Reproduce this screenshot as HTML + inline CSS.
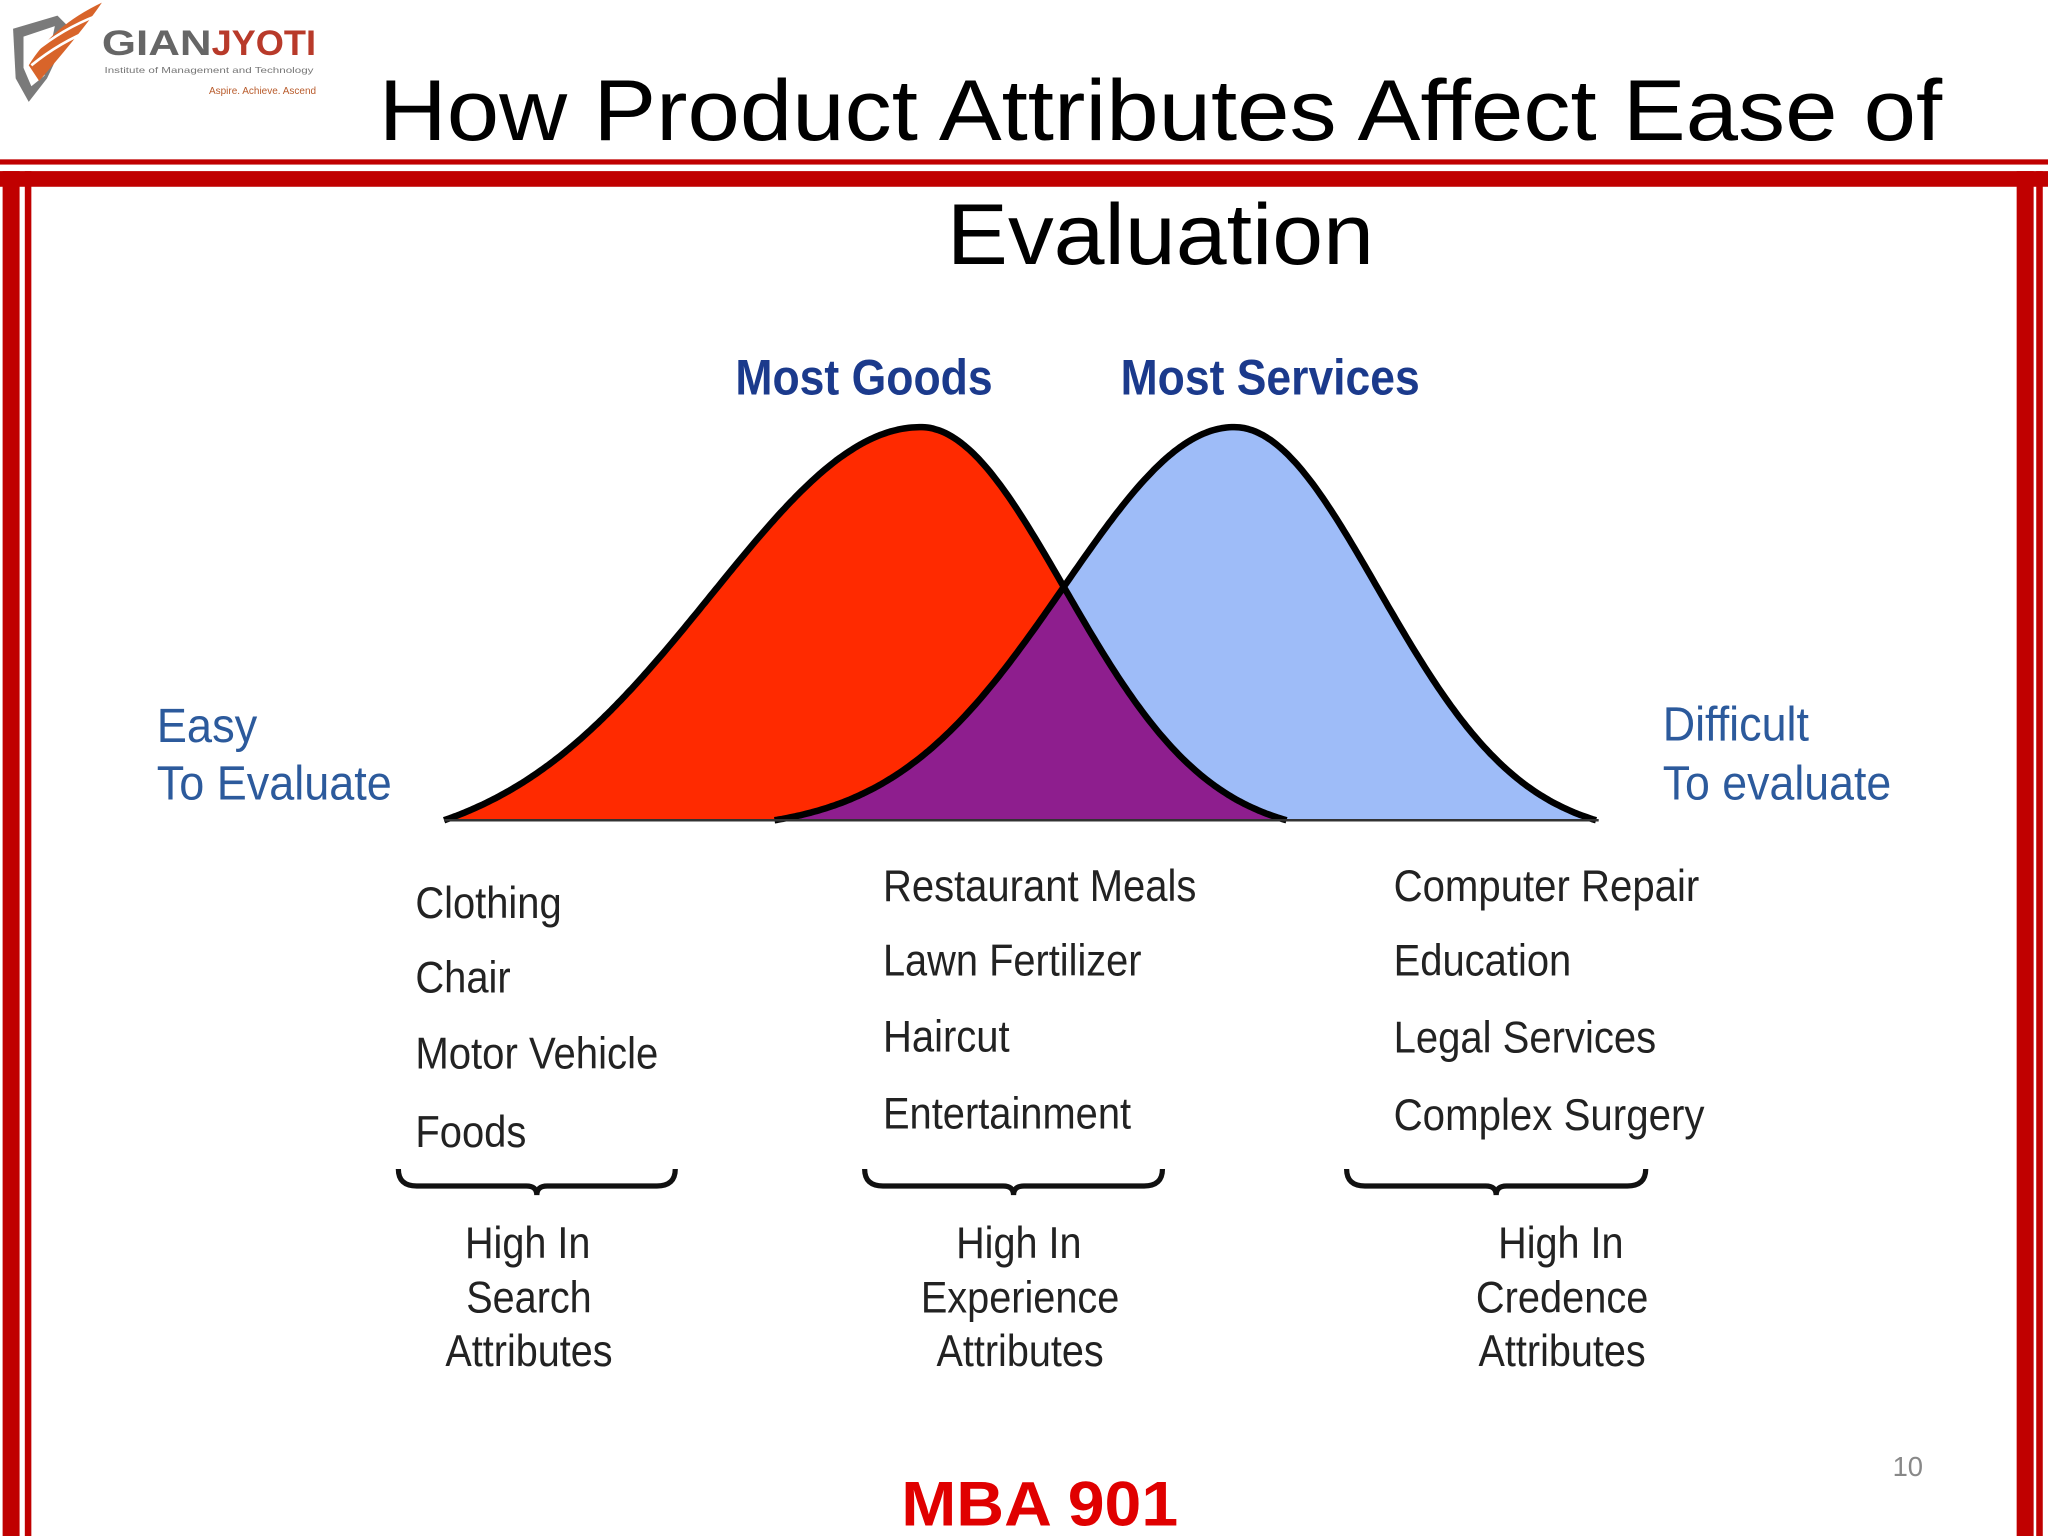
<!DOCTYPE html>
<html><head><meta charset="utf-8"><style>
html,body{margin:0;padding:0;background:#fff;}
svg{display:block;}
text{font-family:"Liberation Sans",sans-serif;}
</style></head><body>
<svg id="chart" width="2048" height="1536" viewBox="0 0 1568 1176" xmlns="http://www.w3.org/2000/svg">
  <rect x="0" y="0" width="1568" height="1176" fill="#fff"/>
  <g>
    <path d="M10 22 L44 12 L54 22 L36 60 L22 78 L12 60 Z" fill="#7a7a7a"/>
    <path d="M18 28 L42 20 L34 58 L24 66 L18 52 Z" fill="#fff"/>
    <path d="M22 50 Q40 20 78 2 Q66 20 30 62 Z" fill="#d8642a"/>
    <path d="M26 40 Q48 22 74 12 M24 50 Q46 32 72 22" stroke="#fff" stroke-width="2" fill="none"/>
    <text x="78" y="42" font-size="27" font-weight="bold" fill="#666" textLength="84" lengthAdjust="spacingAndGlyphs">GIAN</text>
    <text x="162" y="42" font-size="27" font-weight="bold" fill="#b83a2a" textLength="80" lengthAdjust="spacingAndGlyphs">JYOTI</text>
    <text x="80" y="56" font-size="6" fill="#777" textLength="160" lengthAdjust="spacingAndGlyphs">Institute of Management and Technology</text>
    <text x="160" y="72" font-size="8" fill="#b85a2a" textLength="82" lengthAdjust="spacingAndGlyphs">Aspire. Achieve. Ascend</text>
  </g>
  <text x="290" y="107" font-size="66" fill="#000" textLength="1197" lengthAdjust="spacingAndGlyphs">How Product Attributes Affect Ease of</text>
  <text x="725" y="202" font-size="66" fill="#000" textLength="327" lengthAdjust="spacingAndGlyphs">Evaluation</text>
  <g fill="#c00000">
    <rect x="0" y="122" width="1568" height="4"/>
    <rect x="0" y="131" width="1568" height="12"/>
    <rect x="2" y="131" width="13" height="1045"/>
    <rect x="19" y="131" width="5" height="1045"/>
    <rect x="1544" y="131" width="13" height="1045"/>
    <rect x="1559" y="131" width="5" height="1045"/>
  </g>
  <g id="curves"></g>
  <g id="labels"></g>
  <text x="1449" y="1130" font-size="21" fill="#888">10</text>
  <text x="690" y="1168" font-size="48" font-weight="bold" fill="#e00000" textLength="212" lengthAdjust="spacingAndGlyphs">MBA 901</text>
</svg>
<script>
const NS = "http://www.w3.org/2000/svg";
// curve parameters: peak position, left spread, right spread
const curveNames = ["most-goods", "most-services"];
const curvePeaks = [705, 945];
const curveLeftSpread = [160, 130];
const curveRightSpread = [110, 110];
const curveStart = [340, 593];
const curveEnd = [985, 1222];
const baseY = 628, peakY = 327;

function yAt(i, x) {
  const d = x - curvePeaks[i];
  const s = d < 0 ? curveLeftSpread[i] : curveRightSpread[i];
  const dEnd = d < 0 ? curvePeaks[i] - curveStart[i] : curveEnd[i] - curvePeaks[i];
  const g = Math.exp(-d * d / (2 * s * s));
  const ge = Math.exp(-dEnd * dEnd / (2 * s * s));
  const h = Math.max(0, (g - ge) / (1 - ge));
  return baseY - (baseY - peakY) * h;
}
function pathFor(i, closed) {
  let d = "";
  for (let x = curveStart[i]; x <= curveEnd[i]; x += 2) {
    d += (d ? "L" : "M") + x + " " + yAt(i, x).toFixed(1) + " ";
  }
  d += "L" + curveEnd[i] + " " + baseY + " ";
  if (closed) d += "Z";
  return d;
}
const g = document.getElementById("curves");
const defs = document.createElementNS(NS, "defs");
const cp = document.createElementNS(NS, "clipPath");
cp.setAttribute("id", "redClip");
const cpp = document.createElementNS(NS, "path");
cpp.setAttribute("d", pathFor(0, true));
cp.appendChild(cpp); defs.appendChild(cp); g.appendChild(defs);

const red = document.createElementNS(NS, "path");


red.setAttribute("d", pathFor(0, true)); red.setAttribute("fill", "#ff2a00");
g.appendChild(red);
const blue = document.createElementNS(NS, "path");


blue.setAttribute("d", pathFor(1, true)); blue.setAttribute("fill", "#9ebcf8");
g.appendChild(blue);
const purple = document.createElementNS(NS, "path");


purple.setAttribute("d", pathFor(1, true)); purple.setAttribute("fill", "#8e1e8e");
purple.setAttribute("clip-path", "url(#redClip)");
g.appendChild(purple);
for (let i = 0; i < 2; i++) {
  const l = document.createElementNS(NS, "path");
  
  
  l.setAttribute("d", pathFor(i, false));
  l.setAttribute("fill", "none"); l.setAttribute("stroke", "#000"); l.setAttribute("stroke-width", "5");
  l.setAttribute("stroke-linejoin", "round");
  g.appendChild(l);
}
const base = document.createElementNS(NS, "line");


base.setAttribute("x1", 340); base.setAttribute("x2", 1224);
base.setAttribute("y1", baseY); base.setAttribute("y2", baseY);
base.setAttribute("stroke", "#333"); base.setAttribute("stroke-width", "2");
g.appendChild(base);

const lab = document.getElementById("labels");
function addText(t, x, y, w, size, color, weight, name) {
  const e = document.createElementNS(NS, "text");
  
  
  e.setAttribute("x", x); e.setAttribute("y", y);
  e.setAttribute("font-size", size); e.setAttribute("fill", color);
  if (weight) e.setAttribute("font-weight", weight);
  e.setAttribute("textLength", w); e.setAttribute("lengthAdjust", "spacingAndGlyphs");
  e.textContent = t; lab.appendChild(e);
}
addText("Most Goods", 563, 302, 197, 38, "#1b3a8c", "bold", "most-goods-label");
addText("Most Services", 858, 302, 229, 38, "#1b3a8c", "bold", "most-services-label");
addText("Easy", 120, 568, 77, 37, "#2c5a9c", null, "easy-label");
addText("To Evaluate", 120, 612, 180, 37, "#2c5a9c", null, "easy-label");
addText("Difficult", 1273, 567, 112, 37, "#2c5a9c", null, "difficult-label");
addText("To evaluate", 1273, 612, 175, 37, "#2c5a9c", null, "difficult-label");

const col1 = ["Clothing", "Chair", "Motor Vehicle", "Foods"];
const col2 = ["Restaurant Meals", "Lawn Fertilizer", "Haircut", "Entertainment"];
const col3 = ["Computer Repair", "Education", "Legal Services", "Complex Surgery"];
const colX = [318, 676, 1067];
const colY = [[703, 760, 818, 878], [690, 747, 805, 864], [690, 747, 806, 865]];
const colW = [[112, 73, 186, 85], [240, 198, 97, 190], [234, 136, 201, 238]];
[col1, col2, col3].forEach((col, c) => col.forEach((t, k) =>
  addText(t, colX[c], colY[c][k], colW[c][k], 34, "#222", null, "example-item")));

const groupNames = ["Search", "Experience", "Credence"];
const groupCenters = [405, 781, 1196];
const groupWidths = [96, 152, 132];
const braceL = [305, 662, 1031], braceR = [517, 890, 1260];
groupNames.forEach((n, i) => {
  const cx = (braceL[i] + braceR[i]) / 2;
  const b = document.createElementNS(NS, "path");
  
  
  const L = braceL[i], R = braceR[i], y0 = 895, y1 = 908;
  b.setAttribute("d", `M${L} ${y0} Q${L} ${y1} ${L+14} ${y1} L${cx-8} ${y1} Q${cx} ${y1} ${cx} ${y1+7} Q${cx} ${y1} ${cx+8} ${y1} L${R-14} ${y1} Q${R} ${y1} ${R} ${y0}`);
  b.setAttribute("fill", "none"); b.setAttribute("stroke", "#111"); b.setAttribute("stroke-width", "4");
  lab.appendChild(b);
  const cc = groupCenters[i];
  addText("High In", cc - 49, 963, 96, 34, "#222", null, "group-title");
  addText(n, cc - groupWidths[i] / 2, 1005, groupWidths[i], 34, "#222", null, "group-title");
  addText("Attributes", cc - 64, 1046, 128, 34, "#222", null, "group-title");
});
</script>
</body></html>
